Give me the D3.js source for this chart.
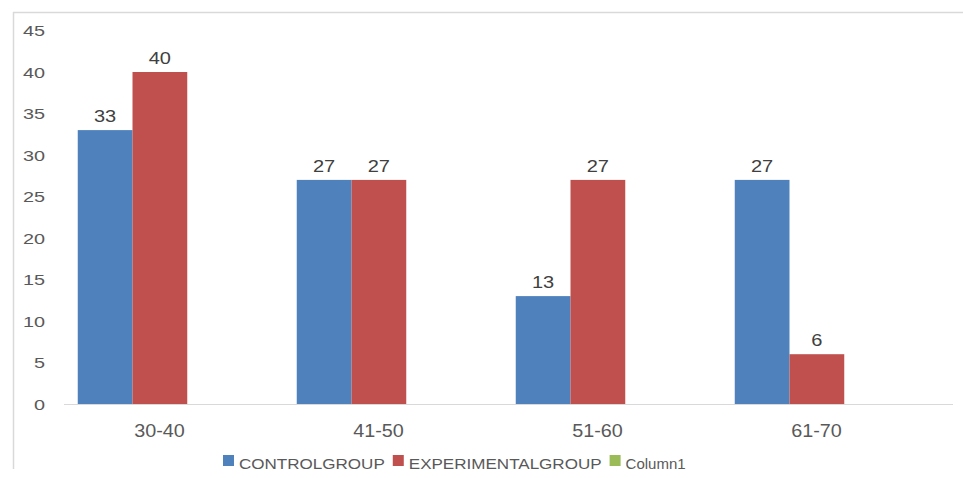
<!DOCTYPE html>
<html>
<head>
<meta charset="utf-8">
<script src="https://cdn.jsdelivr.net/npm/d3@7"></script>
<style>
html,body{margin:0;padding:0;background:#fff;}
text{font-family:"Liberation Sans",Arial,sans-serif;}
</style>
</head>
<body>
<svg id="chart" width="963" height="478"></svg>
<script>
const categories = ["30-40", "41-50", "51-60", "61-70"];
const seriesNames = ["CONTROLGROUP", "EXPERIMENTALGROUP", "Column1"];
const controlGroup = [33, 27, 13, 27];
const experimentalGroup = [40, 27, 27, 6];
const yTicks = [0, 5, 10, 15, 20, 25, 30, 35, 40, 45];
const colors = ["#4F81BD", "#C0504D", "#9BBB59"];

const svg = d3.select("#chart");
const W = 963, H = 478;

// frame lines
svg.append("line").attr("x1", 13).attr("x2", W).attr("y1", 12.5).attr("y2", 12.5)
  .attr("stroke", "#d9d9d9").attr("stroke-width", 1.5);
svg.append("line").attr("x1", 13.5).attr("x2", 13.5).attr("y1", 12).attr("y2", 469)
  .attr("stroke", "#d9d9d9").attr("stroke-width", 1.5);

const y = d3.scaleLinear().domain([0, 45]).range([404, 30.5]);
const x = d3.scaleBand().domain(categories).range([23, 899]).paddingInner(0.5).paddingOuter(0.25);
const xs = d3.scaleBand().domain([0, 1]).range([0, x.bandwidth()]);

// y tick labels
svg.append("g").selectAll("text").data(yTicks).join("text")
  .attr("transform", d => `translate(45,${y(d) + 5.5}) scale(1.28,1)`)
  .attr("text-anchor", "end")
  .attr("font-size", 15.5)
  .attr("fill", "#595959")
  .text(d => d);

// baseline axis
svg.append("line").attr("x1", 64).attr("x2", 953).attr("y1", y(0) + 0.5).attr("y2", y(0) + 0.5)
  .attr("stroke", "#d9d9d9").attr("stroke-width", 1.2);

const series = [controlGroup, experimentalGroup];
const data = [];
series.forEach((vals, si) => vals.forEach((v, ci) => data.push({ s: si, c: categories[ci], v })));

svg.append("g").selectAll("rect").data(data).join("rect")
  .attr("x", d => x(d.c) + xs(d.s))
  .attr("y", d => y(d.v))
  .attr("width", xs.bandwidth())
  .attr("height", d => y(0) - y(d.v))
  .attr("fill", d => colors[d.s]);

// value labels
svg.append("g").selectAll("text").data(data).join("text")
  .attr("transform", d => `translate(${x(d.c) + xs(d.s) + xs.bandwidth() / 2},${y(d.v) - 8}) scale(1.25,1)`)
  .attr("text-anchor", "middle")
  .attr("font-size", 16)
  .attr("fill", "#404040")
  .text(d => d.v);

// category labels
svg.append("g").selectAll("text").data(categories).join("text")
  .attr("transform", d => `translate(${x(d) + x.bandwidth() / 2 + 27},437) scale(1.1,1)`)
  .attr("text-anchor", "middle")
  .attr("font-size", 18)
  .attr("fill", "#595959")
  .text(d => d);

// legend
const legend = svg.append("g");
let lx = 223;
seriesNames.forEach((name, i) => {
  legend.append("rect").attr("x", lx).attr("y", 455).attr("width", 11).attr("height", 11).attr("fill", colors[i]);
  const sx = i === 2 ? 1.0 : 1.1;
  const t = legend.append("text")
    .attr("transform", `translate(${lx + 16},469) scale(${sx},1)`)
    .attr("font-size", i === 2 ? 15 : 15.5)
    .attr("fill", "#595959")
    .text(name);
  const w = t.node().getComputedTextLength() * sx;
  lx = lx + 16 + w + 8;
});
</script>
</body>
</html>
